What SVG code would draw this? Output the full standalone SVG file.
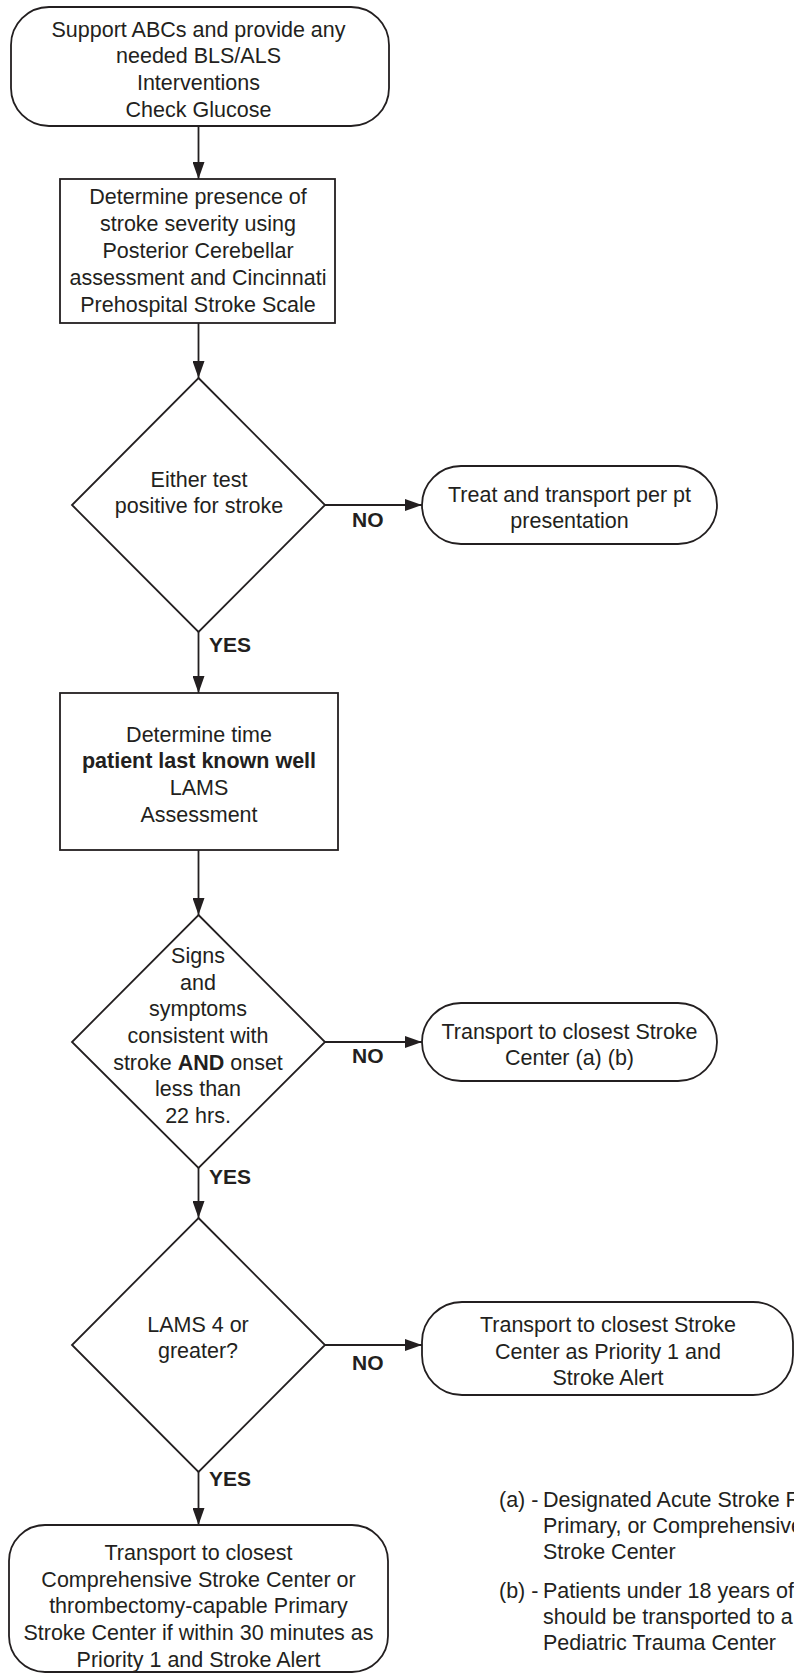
<svg xmlns="http://www.w3.org/2000/svg" width="794" height="1675" viewBox="0 0 794 1675">
<style>
  .shape { fill: #ffffff; stroke: #231f20; stroke-width: 1.8; }
  .conn { fill: none; stroke: #231f20; stroke-width: 1.8; }
  text { font-family: "Liberation Sans", Arial, Helvetica, sans-serif; font-size: 21.5px; fill: #231f20; }
  .c { text-anchor: middle; }
  .b { font-weight: bold; }
  .lbl { font-weight: bold; font-size: 21px; }
</style>
<defs>
  <marker id="arrow" markerUnits="userSpaceOnUse" markerWidth="17" markerHeight="12" refX="17" refY="6" orient="auto">
    <path d="M0,0 L17,6 L0,12 Z" fill="#231f20"/>
  </marker>
</defs>
<rect width="794" height="1675" fill="#ffffff"/>

<g id="connectors">
  <line class="conn" x1="198.5" y1="126" x2="198.5" y2="179" marker-end="url(#arrow)"/>
  <line class="conn" x1="198.5" y1="323" x2="198.5" y2="378" marker-end="url(#arrow)"/>
  <line class="conn" x1="198.5" y1="632" x2="198.5" y2="693" marker-end="url(#arrow)"/>
  <line class="conn" x1="198.5" y1="850" x2="198.5" y2="915" marker-end="url(#arrow)"/>
  <line class="conn" x1="198.5" y1="1168" x2="198.5" y2="1218" marker-end="url(#arrow)"/>
  <line class="conn" x1="198.5" y1="1472" x2="198.5" y2="1525" marker-end="url(#arrow)"/>
  <line class="conn" x1="325" y1="505" x2="422" y2="505" marker-end="url(#arrow)"/>
  <line class="conn" x1="325" y1="1042" x2="422" y2="1042" marker-end="url(#arrow)"/>
  <line class="conn" x1="325" y1="1345" x2="422" y2="1345" marker-end="url(#arrow)"/>
  <text class="lbl" x="352" y="527">NO</text>
  <text class="lbl" x="352" y="1063">NO</text>
  <text class="lbl" x="352" y="1370">NO</text>
  <text class="lbl" x="209" y="652">YES</text>
  <text class="lbl" x="209" y="1184">YES</text>
  <text class="lbl" x="209" y="1486">YES</text>
</g>

<g id="start">
  <rect class="shape" x="11" y="7" width="378" height="119" rx="38" ry="38"/>
  <text class="c" x="198.5" y="37">Support ABCs and provide any</text>
  <text class="c" x="198.5" y="63">needed BLS/ALS</text>
  <text class="c" x="198.5" y="90">Interventions</text>
  <text class="c" x="198.5" y="117">Check Glucose</text>
</g>

<g id="determine-severity">
  <rect class="shape" x="60" y="179" width="275" height="144"/>
  <text class="c" x="198" y="204">Determine presence of</text>
  <text class="c" x="198" y="231">stroke severity using</text>
  <text class="c" x="198" y="258">Posterior Cerebellar</text>
  <text class="c" x="198" y="285">assessment and Cincinnati</text>
  <text class="c" x="198" y="312">Prehospital Stroke Scale</text>
</g>

<g id="decision-test-positive">
  <polygon class="shape" points="198.5,378 325,505 198.5,632 72,505"/>
  <text class="c" x="199" y="487">Either test</text>
  <text class="c" x="199" y="513">positive for stroke</text>
</g>

<g id="treat-transport">
  <rect class="shape" x="422" y="466" width="295" height="78" rx="39" ry="39"/>
  <text class="c" x="569.5" y="502">Treat and transport per pt</text>
  <text class="c" x="569.5" y="528">presentation</text>
</g>

<g id="determine-time">
  <rect class="shape" x="60" y="693" width="278" height="157"/>
  <text class="c" x="199" y="742">Determine time</text>
  <text class="c b" x="199" y="768">patient last known well</text>
  <text class="c" x="199" y="795">LAMS</text>
  <text class="c" x="199" y="822">Assessment</text>
</g>

<g id="decision-signs">
  <polygon class="shape" points="198.5,915 325,1042 198.5,1168 72,1042"/>
  <text class="c" x="198" y="963">Signs</text>
  <text class="c" x="198" y="990">and</text>
  <text class="c" x="198" y="1016">symptoms</text>
  <text class="c" x="198" y="1043">consistent with</text>
  <text class="c" x="198" y="1070">stroke <tspan class="b">AND</tspan> onset</text>
  <text class="c" x="198" y="1096">less than</text>
  <text class="c" x="198" y="1123">22 hrs.</text>
</g>

<g id="transport-closest">
  <rect class="shape" x="422" y="1003" width="295" height="78" rx="39" ry="39"/>
  <text class="c" x="569.5" y="1039">Transport to closest Stroke</text>
  <text class="c" x="569.5" y="1065">Center (a) (b)</text>
</g>

<g id="decision-lams">
  <polygon class="shape" points="198.5,1218 325,1345 198.5,1472 72,1345"/>
  <text class="c" x="198" y="1332">LAMS 4 or</text>
  <text class="c" x="198" y="1358">greater?</text>
</g>

<g id="transport-priority">
  <rect class="shape" x="422" y="1302" width="371" height="93" rx="40" ry="40"/>
  <text class="c" x="608" y="1332">Transport to closest Stroke</text>
  <text class="c" x="608" y="1359">Center as Priority 1 and</text>
  <text class="c" x="608" y="1385">Stroke Alert</text>
</g>

<g id="transport-comprehensive">
  <rect class="shape" x="9" y="1525" width="379" height="147" rx="36" ry="36"/>
  <text class="c" x="198.5" y="1560">Transport to closest</text>
  <text class="c" x="198.5" y="1587">Comprehensive Stroke Center or</text>
  <text class="c" x="198.5" y="1613">thrombectomy-capable Primary</text>
  <text class="c" x="198.5" y="1640">Stroke Center if within 30 minutes as</text>
  <text class="c" x="198.5" y="1667">Priority 1 and Stroke Alert</text>
</g>

<g id="footnotes">
  <text x="499" y="1507">(a) -</text>
  <text x="543" y="1507">Designated Acute Stroke R</text>
  <text x="543" y="1533">Primary, or Comprehensive</text>
  <text x="543" y="1559">Stroke Center</text>
  <text x="499" y="1598">(b) -</text>
  <text x="543" y="1598">Patients under 18 years of</text>
  <text x="543" y="1624">should be transported to a</text>
  <text x="543" y="1650">Pediatric Trauma Center</text>
</g>
</svg>
